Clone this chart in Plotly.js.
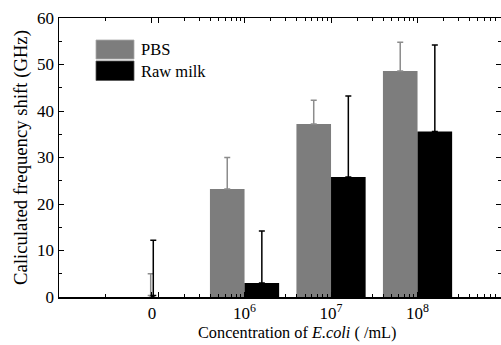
<!DOCTYPE html>
<html>
<head>
<meta charset="utf-8">
<script src="https://cdn.plot.ly/plotly-3.0.1.min.js"></script>
<style>html,body{margin:0;padding:0;background:#fff;}#chart{width:501px;height:345px;}</style>
</head>
<body>
<div id="chart"></div>
<script>
// ---- data ----
var concentrations = [0, 1e6, 1e7, 1e8];
var tickLabels = ["0", "10<sup>6</sup>", "10<sup>7</sup>", "10<sup>8</sup>"];
var seriesNames = ["PBS", "Raw milk"];
var pbsValues = [0.3, 23.2, 37.2, 48.6];
var pbsErrPlus = [4.7, 6.8, 5.1, 6.2];
var rawValues = [0.3, 3.0, 25.8, 35.6];
var rawErrPlus = [11.9, 11.2, 17.4, 18.6];
var xTitle = 'Concentration of <i>E.coli</i> ( /mL)';
var yTitle = 'Caliculated frequency shift (GHz)';

// ---- layout helpers ----
var zeroPos = 4.93;            // fake "0" position on the log-decade axis
var xPos = concentrations.map(function (c) { return c === 0 ? zeroPos : Math.log10(c); });
var barW = concentrations.map(function (c) { return c === 0 ? 0.03 : 0.4; });
var pbsOffset = barW.map(function (w) { return -w; });
var rawOffset = barW.map(function () { return 0; });

var minorVals = [4.393];
for (var d = 5; d <= 8; d++) {
  for (var k = 2; k <= 9; k++) minorVals.push(d + Math.log10(k));
}

var grey = '#7d7d7d';
var serif = "'Liberation Serif', 'Times New Roman', serif";

var traces = [
  {
    type: 'bar', name: seriesNames[0], x: xPos, y: pbsValues,
    width: barW, offset: pbsOffset,
    marker: {color: grey, line: {width: 0}},
    error_y: {type: 'data', symmetric: false, array: pbsErrPlus,
      arrayminus: pbsValues.map(function () { return 0; }),
      color: '#8c8c8c', thickness: 1.5, width: 3},
    showlegend: false
  },
  {
    type: 'bar', name: seriesNames[1], x: xPos, y: rawValues,
    width: barW, offset: rawOffset,
    marker: {color: '#000000', line: {width: 0}},
    error_y: {type: 'data', symmetric: false, array: rawErrPlus,
      arrayminus: rawValues.map(function () { return 0; }),
      color: '#000000', thickness: 1.5, width: 3},
    showlegend: false
  }
];

var layout = {
  width: 501, height: 345,
  margin: {l: 59, r: 0, t: 18, b: 48},
  paper_bgcolor: '#fff', plot_bgcolor: '#fff',
  barmode: 'overlay',
  font: {family: serif, color: '#000', size: 16},
  xaxis: {
    range: [3.855, 8.965],
    tickmode: 'array',
    tickvals: [zeroPos, 5].concat(xPos.slice(1)),
    ticktext: [tickLabels[0], ' '].concat(tickLabels.slice(1)),
    tickangle: 0,
    ticks: 'inside', ticklen: 5, tickwidth: 1, tickcolor: '#000',
    minor: {tickmode: 'array', tickvals: minorVals, ticks: 'inside', ticklen: 3, tickwidth: 1, tickcolor: '#000'},
    showline: true, linecolor: '#000', linewidth: 1.5, mirror: 'ticks',
    showgrid: false, zeroline: false,
    tickfont: {family: serif, size: 17},
    ticklabelstandoff: 0
  },
  yaxis: {
    range: [0, 60],
    tickmode: 'linear', tick0: 0, dtick: 10,
    ticks: 'inside', ticklen: 5, tickwidth: 1, tickcolor: '#000',
    minor: {dtick: 5, ticks: 'inside', ticklen: 3, tickwidth: 1, tickcolor: '#000'},
    showline: true, linecolor: '#000', linewidth: 1.5, mirror: 'ticks',
    showgrid: false, zeroline: false,
    tickfont: {family: serif, size: 17},
    title: {text: yTitle, font: {family: serif, size: 18.7}, standoff: 4}
  },
  shapes: [
    {type: 'rect', xref: 'paper', yref: 'paper', x0: (96 - 59) / 442, x1: (134 - 59) / 442,
      y0: (297 - 59) / 279, y1: (297 - 40) / 279, fillcolor: grey, line: {width: 0.8, color: '#aaa'}},
    {type: 'rect', xref: 'paper', yref: 'paper', x0: (96 - 59) / 442, x1: (134 - 59) / 442,
      y0: (297 - 80.5) / 279, y1: (297 - 61) / 279, fillcolor: '#000', line: {width: 0.8, color: '#555'}}
  ],
  annotations: [
    {xref: 'paper', yref: 'paper', x: (139 - 59) / 442, y: (297 - 50) / 279, xanchor: 'left', yanchor: 'middle',
      text: seriesNames[0], showarrow: false, font: {family: serif, size: 16.5}},
    {xref: 'paper', yref: 'paper', x: (139 - 59) / 442, y: (297 - 71) / 279, xanchor: 'left', yanchor: 'middle',
      text: seriesNames[1], showarrow: false, font: {family: serif, size: 16.5}},
    {xref: 'paper', yref: 'paper', x: (297.5 - 59) / 442, y: (297 - 332) / 279, xanchor: 'center', yanchor: 'middle',
      text: xTitle, showarrow: false, font: {family: serif, size: 16.3}}
  ]
};

Plotly.newPlot('chart', traces, layout, {displayModeBar: false, staticPlot: true});
</script>
</body>
</html>
